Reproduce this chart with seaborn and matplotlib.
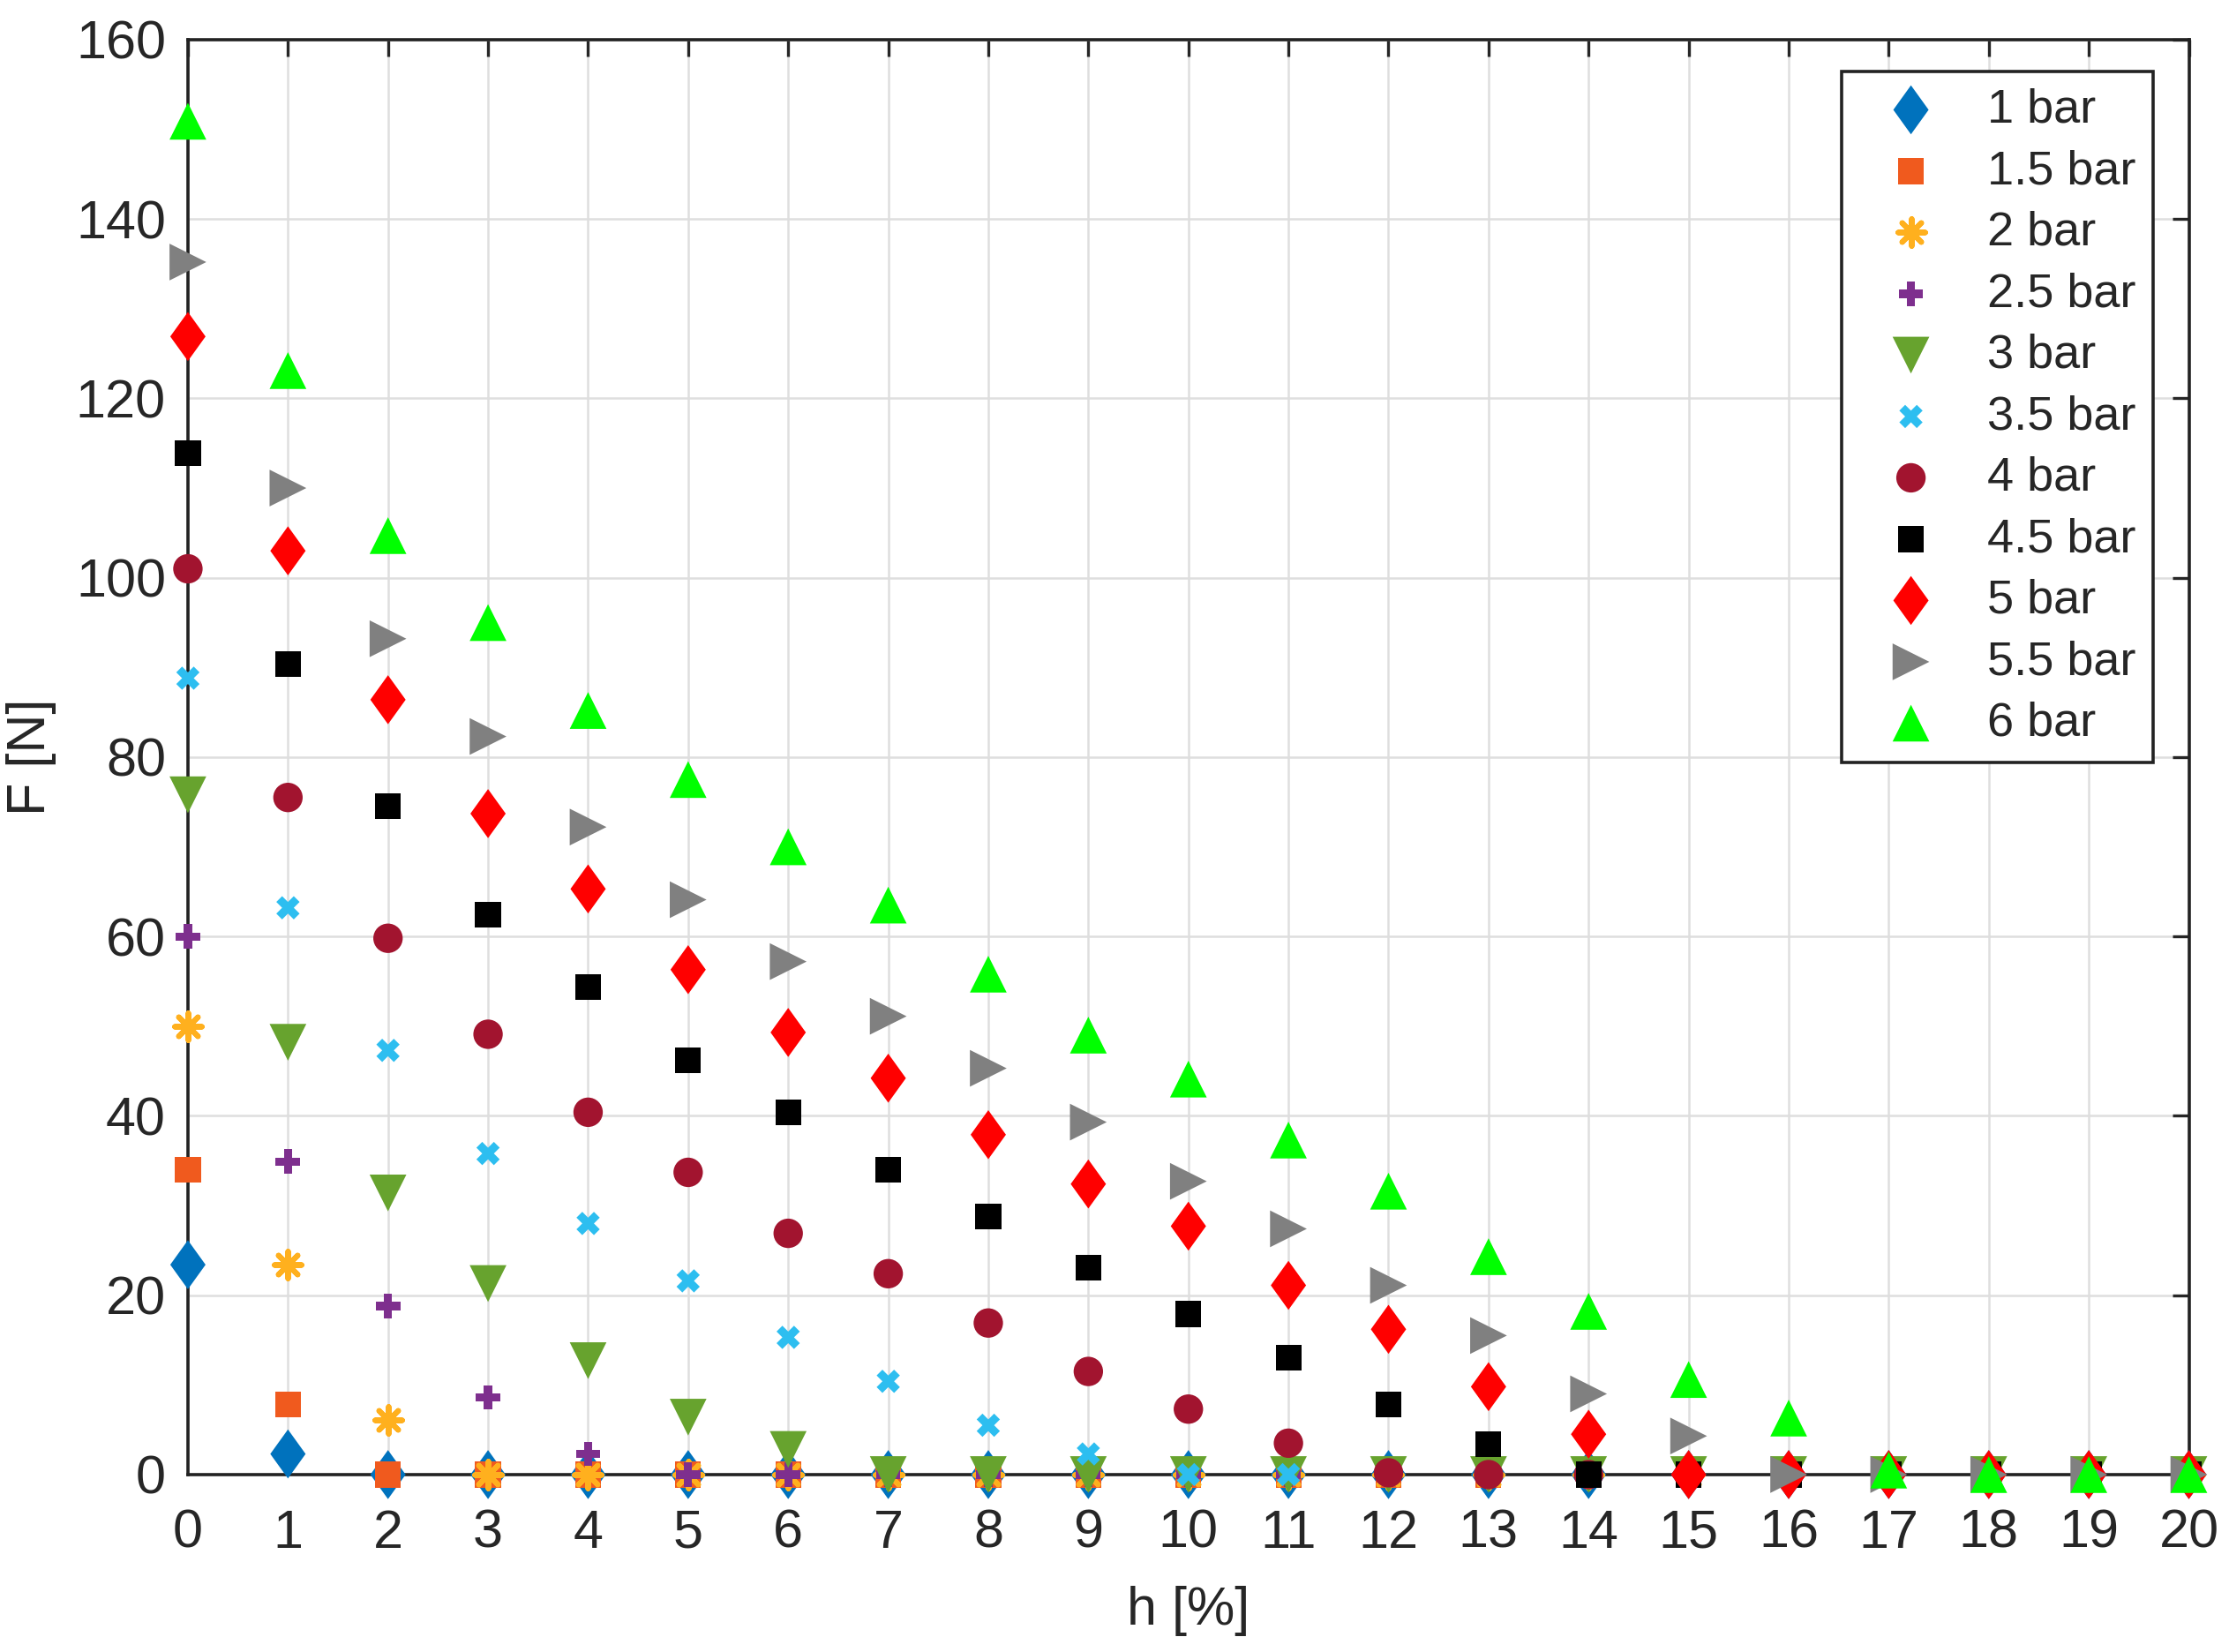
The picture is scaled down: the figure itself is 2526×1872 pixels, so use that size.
import matplotlib
matplotlib.use("Agg")
import matplotlib.pyplot as plt
import seaborn as sns
import pandas as pd

h_percent = list(range(21))

pressures = ["1 bar", "1.5 bar", "2 bar", "2.5 bar", "3 bar", "3.5 bar",
             "4 bar", "4.5 bar", "5 bar", "5.5 bar", "6 bar"]

f_1bar = [23.4, 2.3] + [0] * 19
f_15bar = [34.0, 7.8] + [0] * 19
f_2bar = [50.0, 23.4, 6.1] + [0] * 18
f_25bar = [60.0, 34.9, 18.8, 8.6, 2.3] + [0] * 16
f_3bar = [75.8, 48.2, 31.4, 21.3, 12.7, 6.4, 2.8] + [0] * 14
f_35bar = [88.8, 63.2, 47.3, 35.8, 28.0, 21.6, 15.3, 10.4, 5.5, 2.3] + [0] * 11
f_4bar = [101.0, 75.5, 59.8, 49.1, 40.4, 33.7, 26.9, 22.4, 16.9, 11.5,
          7.3, 3.5, 0.2] + [0] * 8
f_45bar = [113.9, 90.4, 74.5, 62.4, 54.4, 46.2, 40.4, 34.0, 28.8, 23.1,
           17.9, 13.0, 7.8, 3.4] + [0] * 7
f_5bar = [126.9, 103.0, 86.4, 73.7, 65.3, 56.3, 49.3, 44.2, 37.9, 32.4,
          27.7, 21.1, 16.2, 9.8, 4.5] + [0] * 6
f_55bar = [135.2, 110.0, 93.2, 82.3, 72.2, 64.1, 57.2, 51.1, 45.3, 39.3,
           32.7, 27.4, 21.1, 15.5, 9.0, 4.3] + [0] * 5
f_6bar = [150.9, 123.1, 104.7, 95.0, 85.2, 77.5, 70.0, 63.5, 55.8, 49.0,
          44.1, 37.3, 31.6, 24.3, 18.2, 10.6, 6.3, 0.5, 0, 0, 0]

series_values = [f_1bar, f_15bar, f_2bar, f_25bar, f_3bar, f_35bar,
                 f_4bar, f_45bar, f_5bar, f_55bar, f_6bar]

colors = ["#0072BD", "#F05A1E", "#FFB01E", "#7E2F8E", "#67A32E", "#2DBEF0",
          "#A2142F", "#000000", "#FF0000", "#808080", "#00FF00"]

# MATLAB-like diamond (a bit wider than matplotlib's thin diamond)
diamond = [(0, 1), (0.72, 0), (0, -1), (-0.72, 0), (0, 1)]
markers = [diamond, "s", (8, 2, 0), "P", "v", "X", "o", "s", diamond, ">", "^"]
sizes = [20, 10.5, 11, 10, 15, 9.5, 12, 10.5, 20, 15, 15]


def main():
    sns.set_theme(style="whitegrid")
    plt.rcParams["font.family"] = ["Liberation Sans", "DejaVu Sans"]

    fig = plt.figure(figsize=(12.63, 9.36), dpi=200)
    ax = fig.add_axes([0.0843, 0.1074, 0.8977, 0.8686])

    for i, (label, vals) in enumerate(zip(pressures, series_values)):
        df = pd.DataFrame({"h": h_percent, "F": vals})
        mk = markers[i]
        unfilled = isinstance(mk, tuple)
        sns.scatterplot(
            data=df, x="h", y="F", ax=ax,
            marker=mk, s=sizes[i] ** 2,
            color=colors[i],
            edgecolor=colors[i] if unfilled else "none",
            linewidth=2.2 if unfilled else 0,
            label=label, zorder=3 + i, clip_on=False,
        )

    ax.set_xlim(0, 20)
    ax.set_ylim(0, 160)
    ax.set_xticks(range(0, 21))
    ax.set_yticks(range(0, 161, 20))
    ax.grid(True, color="#DEDEDE", linewidth=0.9)
    for sp in ax.spines.values():
        sp.set_color("#222222")
        sp.set_linewidth(1.3)
    ax.tick_params(direction="in", length=7, width=1.2, top=True, right=True,
                   labelsize=22, colors="#262626")
    ax.tick_params(axis="x", pad=14)
    ax.tick_params(axis="y", pad=9)
    ax.set_xlabel("h [%]", fontsize=22, color="#262626", labelpad=11)
    ax.set_ylabel("F [N]", fontsize=22, color="#262626", labelpad=8)

    leg = ax.legend(loc="upper right", bbox_to_anchor=(0.982, 0.978),
                    fontsize=19.5, frameon=True, fancybox=False, shadow=False,
                    borderpad=0.35, labelspacing=0.36, handletextpad=0.5,
                    borderaxespad=0, handlelength=2.2)
    leg.get_frame().set_edgecolor("#222222")
    leg.get_frame().set_linewidth(1.3)
    leg.get_frame().set_alpha(1.0)
    leg.set_zorder(20)

    fig.savefig("out.png", dpi=200)
    plt.close(fig)


if __name__ == "__main__":
    main()
